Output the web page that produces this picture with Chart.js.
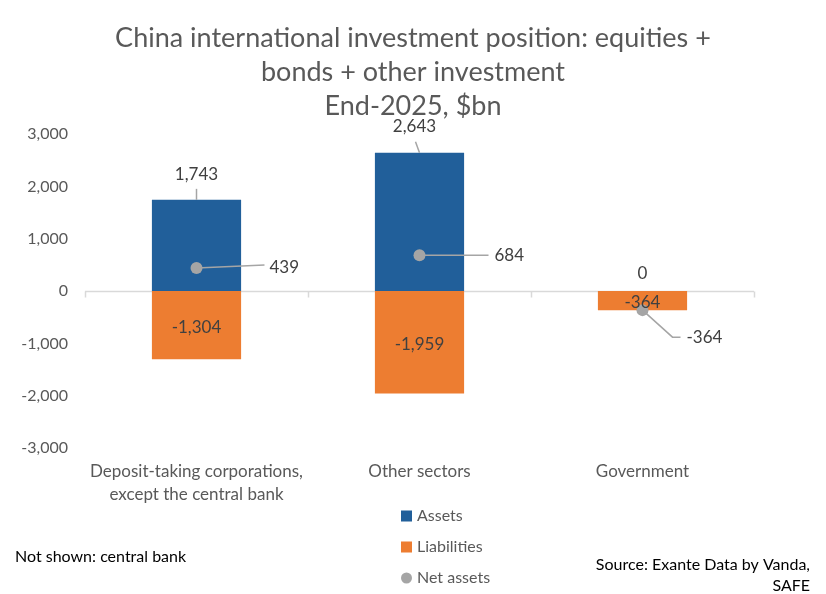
<!DOCTYPE html>
<html>
<head>
<meta charset="utf-8">
<script src="https://cdn.jsdelivr.net/npm/chart.js@4.4.1/dist/chart.umd.min.js"></script>
<style>
  html, body { margin: 0; padding: 0; background: #fff; }
  #wrap { width: 826px; height: 594px; position: relative; }
</style>
</head>
<body>
<div id="wrap"><canvas id="chart"></canvas></div>
<script>
// data
const categories = [['Deposit-taking corporations,', 'except the central bank'], 'Other sectors', 'Government'];
const assets = [1743, 2643, 0];
const liabilities = [-1304, -1959, -364];
const netAssets = [439, 684, -364];
const yTicks = [-3000, -2000, -1000, 0, 1000, 2000, 3000];

const FONT = 'Lato, "Noto Sans", sans-serif';
const BLUE = '#215F9A';
const ORANGE = '#ED7D31';
const GREY = '#A5A5A5';
const LABEL = '#404040';

const fmt = v => v.toLocaleString('en-US');

// callout offsets (pixels)
const assetOffsets = [{dx: 0, dy: -25, line: [0, -11]}, {dx: -5, dy: -26, line: [-4, -11]}, {dx: 0, dy: -18, line: null}];
// tx/ty: label left edge and centre; lx/ly: end of leader; ex: optional elbow x
const netOffsets = [
  {tx: 73, ty: -1, lx: 68, ly: -3},
  {tx: 75, ty: 0, lx: 69, ly: 0},
  {tx: 44, ty: 27, lx: 38, ly: 27, ex: 30}
];

const zeroAxis = {
  id: 'zeroAxis',
  beforeDatasetsDraw(chart) {
    const ctx = chart.ctx, x = chart.scales.x, y = chart.scales.y;
    const y0 = Math.round(y.getPixelForValue(0)) + 0.5;
    const step = x.getPixelForValue(1) - x.getPixelForValue(0);
    ctx.save();
    ctx.strokeStyle = '#D9D9D9';
    ctx.lineWidth = 1.5;
    ctx.beginPath();
    ctx.moveTo(chart.chartArea.left, y0);
    ctx.lineTo(chart.chartArea.right, y0);
    for (let i = 0; i <= categories.length; i++) {
      const px = Math.round(x.getPixelForValue(0) - step / 2 + i * step) + 0.5;
      ctx.moveTo(px, y0);
      ctx.lineTo(px, y0 + 6);
    }
    ctx.stroke();
    ctx.restore();
  }
};

const callouts = {
  id: 'callouts',
  afterDatasetsDraw(chart) {
    const ctx = chart.ctx;
    ctx.save();
    ctx.font = '17px ' + FONT;
    ctx.fillStyle = LABEL;
    ctx.textBaseline = 'middle';
    ctx.strokeStyle = GREY;
    ctx.lineWidth = 1.5;

    // assets: above the bar with a leader line
    chart.getDatasetMeta(0).data.forEach((bar, i) => {
      const o = assetOffsets[i];
      if (o.line) {
        ctx.beginPath();
        ctx.moveTo(bar.x, bar.y);
        ctx.lineTo(bar.x + o.line[0], bar.y + o.line[1]);
        ctx.stroke();
      }
      ctx.textAlign = 'center';
      ctx.fillText(fmt(assets[i]), bar.x + o.dx, bar.y + o.dy);
    });

    // liabilities: centred in the bar
    chart.getDatasetMeta(1).data.forEach((bar, i) => {
      ctx.textAlign = 'center';
      ctx.fillText(fmt(liabilities[i]), bar.x, (bar.y + bar.base) / 2 + 2);
    });

    // net assets: to the right with leader lines
    chart.getDatasetMeta(2).data.forEach((pt, i) => {
      const o = netOffsets[i];
      ctx.beginPath();
      ctx.moveTo(pt.x, pt.y);
      if (o.ex) ctx.lineTo(pt.x + o.ex, pt.y + o.ly);
      ctx.lineTo(pt.x + o.lx, pt.y + o.ly);
      ctx.stroke();
      ctx.textAlign = 'left';
      ctx.fillText(fmt(netAssets[i]), pt.x + o.tx, pt.y + o.ty);
    });
    ctx.restore();
  }
};

const sideLegend = {
  id: 'sideLegend',
  afterDraw(chart) {
    const ctx = chart.ctx;
    ctx.save();
    ctx.font = '16px ' + FONT;
    ctx.textBaseline = 'middle';
    ctx.textAlign = 'left';
    const x0 = 401, y0 = 516, gap = 31;
    chart.data.datasets.forEach((ds, i) => {
      const cy = y0 + i * gap;
      ctx.fillStyle = ds.backgroundColor;
      if (ds.type === 'line') {
        ctx.beginPath();
        ctx.arc(x0 + 5.5, cy, 5.5, 0, Math.PI * 2);
        ctx.fill();
      } else {
        ctx.fillRect(x0, cy - 5.5, 11, 11);
      }
      ctx.fillStyle = '#595959';
      ctx.fillText(ds.label, x0 + 16, cy);
    });

    // notes
    ctx.fillStyle = '#000';
    ctx.font = '16px ' + FONT;
    ctx.fillText('Not shown: central bank', 15, 557);
    ctx.textAlign = 'right';
    ctx.fillText('Source: Exante Data by Vanda,', 810, 565);
    ctx.fillText('SAFE', 810, 586);
    ctx.restore();
  }
};

new Chart(document.getElementById('chart'), {
  data: {
    labels: categories,
    datasets: [
      { type: 'bar', label: 'Assets', data: assets, backgroundColor: BLUE, stack: 'pos', order: 2 },
      { type: 'bar', label: 'Liabilities', data: liabilities, backgroundColor: ORANGE, stack: 'pos', order: 2 },
      { type: 'line', label: 'Net assets', data: netAssets, backgroundColor: GREY, borderColor: GREY,
        showLine: false, pointRadius: 6, pointHoverRadius: 6, pointBorderWidth: 0, stack: 'net', order: 1 }
    ]
  },
  options: {
    responsive: true,
    maintainAspectRatio: false,
    animation: false,
    layout: { padding: { left: 0, right: 0, top: 0, bottom: 84 } },
    datasets: { bar: { barPercentage: 1, categoryPercentage: 0.4 } },
    plugins: {
      legend: { display: false },
      tooltip: { enabled: false },
      title: {
        display: true,
        text: ['China international investment position: equities +', 'bonds + other investment', 'End-2025, $bn'],
        color: '#595959',
        font: { family: FONT, size: 27, weight: 'normal', lineHeight: 1.26 },
        padding: { top: 21, bottom: 11 }
      }
    },
    scales: {
      x: {
        stacked: true,
        grid: { display: false },
        border: { display: false },
        ticks: { color: '#595959', font: { family: FONT, size: 17, lineHeight: 1.35 }, padding: 4, maxRotation: 0 }
      },
      y: {
        stacked: true,
        min: -3000,
        max: 3000,
        afterFit(scale) { scale.width = 85; },
        afterBuildTicks(scale) { scale.ticks = yTicks.map(v => ({ value: v })); },
        grid: { display: false, drawTicks: false },
        border: { display: false },
        ticks: { color: '#595959', font: { family: FONT, size: 16 }, padding: 17, callback: v => fmt(v) }
      },
      // empty right-hand spacer so the title stays centred on the page
      spacer: {
        type: 'linear',
        position: 'right',
        afterFit(scale) { scale.width = 72; },
        grid: { display: false, drawTicks: false },
        border: { display: false },
        ticks: { display: false }
      }
    }
  },
  plugins: [zeroAxis, callouts, sideLegend]
});
</script>
</body>
</html>
